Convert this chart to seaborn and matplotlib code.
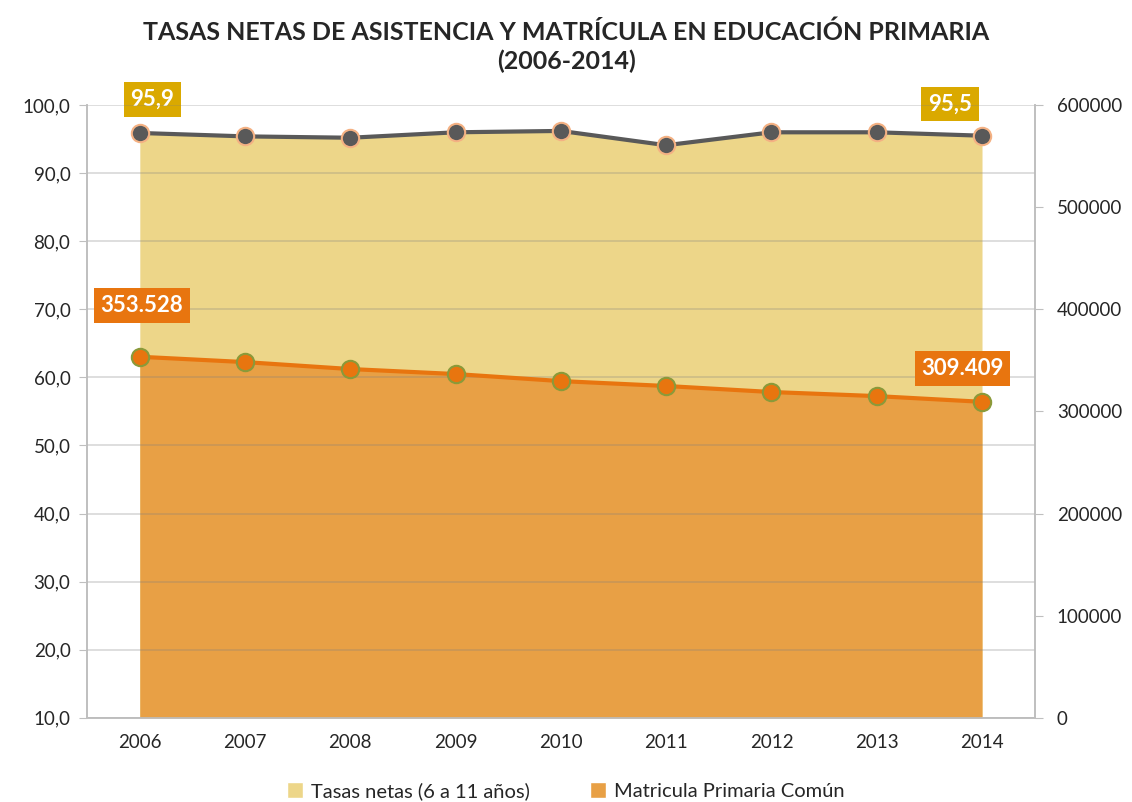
import seaborn as sns
import matplotlib.pyplot as plt
import pandas as pd
import numpy as np
from matplotlib.lines import Line2D
from matplotlib.patches import Patch
from matplotlib.ticker import FuncFormatter, MultipleLocator

# -------------------------------
# Data
# -------------------------------
years = [2006, 2007, 2008, 2009, 2010, 2011, 2012, 2013, 2014]
tasas_netas = [95.9, 95.4, 95.2, 96.0, 96.2, 94.1, 96.0, 96.0, 95.5]
matricula = [353528, 348300, 341500, 336600, 329700, 324900, 319000, 315000, 309409]

df = pd.DataFrame({"Año": years, "Tasas": tasas_netas, "Matricula": matricula})

# -------------------------------
# Style
# -------------------------------
sns.set_style("white")
plt.rcParams["font.family"] = ["Lato", "DejaVu Sans"]

YELLOW_FILL = "#EDD689"
ORANGE_FILL = "#E8A045"
ORANGE = "#E8750F"
GOLD = "#DAA900"
GRAY_LINE = "#595959"
AXIS_GRAY = "#BFBFBF"

fig = plt.figure(figsize=(11.32, 8.02), dpi=100)
ax = fig.add_axes([0.077, 0.105, 0.837, 0.764])
ax2 = ax.twinx()

# yellow area + line (left axis)
ax.fill_between(df["Año"], df["Tasas"], 10, color=YELLOW_FILL, lw=0, zorder=1)
sns.lineplot(data=df, x="Año", y="Tasas", ax=ax, color=GRAY_LINE, lw=3,
             marker="o", markersize=12.5, markerfacecolor=GRAY_LINE,
             markeredgecolor="#F4B183", markeredgewidth=1.5, zorder=5)

# orange area + line (right axis)
ax2.fill_between(df["Año"], df["Matricula"], 0, color=ORANGE_FILL, lw=0, zorder=1)
sns.lineplot(data=df, x="Año", y="Matricula", ax=ax2, color=ORANGE, lw=3,
             marker="o", markersize=12.5, markerfacecolor=ORANGE,
             markeredgecolor="#8A9A3A", markeredgewidth=1.5, zorder=5)

ax.set_ylim(10, 100)
ax2.set_ylim(0, 600000)
ax.set_xlim(years[0] - 0.5, years[-1] + 0.5)

# gridlines drawn on top of both areas (in left-axis coordinates)
for t in np.arange(10, 101, 10):
    ax2.add_line(Line2D([0, 1], [t, t], transform=ax.get_yaxis_transform(),
                        color="#7F7F7F", alpha=0.3, lw=1.2, zorder=2))

# axes
ax.yaxis.set_major_locator(MultipleLocator(10))
ax.yaxis.set_major_formatter(FuncFormatter(lambda v, p: f"{v:.1f}".replace(".", ",")))
ax2.yaxis.set_major_locator(MultipleLocator(100000))
ax2.yaxis.set_major_formatter(FuncFormatter(lambda v, p: f"{int(v)}"))

ax.set_xticks(years)
ax.set_xticks([y - 0.5 for y in years] + [years[-1] + 0.5], minor=True)
ax.tick_params(axis="x", which="major", length=0, pad=12, labelsize=13.5, colors="#262626")
ax.tick_params(axis="x", which="minor", length=6, color=AXIS_GRAY, direction="out")
ax.tick_params(axis="y", length=6, color=AXIS_GRAY, direction="out", labelsize=13.5,
               labelcolor="#262626", pad=6, left=True)
ax2.tick_params(axis="y", length=6, color=AXIS_GRAY, direction="out", labelsize=13.5,
                labelcolor="#262626", pad=10, right=True)

for a in (ax, ax2):
    a.set_xlabel("")
    a.set_ylabel("")
    a.spines["top"].set_visible(False)
    for s in ("left", "right", "bottom"):
        a.spines[s].set_color(AXIS_GRAY)
        a.spines[s].set_linewidth(1.2)

# value labels
box = dict(boxstyle="square,pad=0.3", lw=0)
ax.annotate("95,9", (years[0], tasas_netas[0]), xytext=(9, 24), textcoords="offset points",
            ha="center", va="center", color="white", fontsize=16, fontweight="bold",
            bbox=dict(box, fc=GOLD), zorder=10)
ax.annotate("95,5", (years[-1], tasas_netas[-1]), xytext=(-23, 23), textcoords="offset points",
            ha="center", va="center", color="white", fontsize=16, fontweight="bold",
            bbox=dict(box, fc=GOLD), zorder=10)
ax2.annotate("353.528", (years[0], matricula[0]), xytext=(1.5, 37), textcoords="offset points",
             ha="center", va="center", color="white", fontsize=16, fontweight="bold",
             bbox=dict(box, fc=ORANGE), zorder=10)
ax2.annotate("309.409", (years[-1], matricula[-1]), xytext=(-14, 24), textcoords="offset points",
             ha="center", va="center", color="white", fontsize=16, fontweight="bold",
             bbox=dict(box, fc=ORANGE), zorder=10)

fig.suptitle("TASAS NETAS DE ASISTENCIA Y MATRÍCULA EN EDUCACIÓN PRIMARIA\n(2006-2014)",
             fontsize=18, fontweight="bold", y=0.975, linespacing=1.3)

handles = [Patch(facecolor=YELLOW_FILL, label="Tasas netas (6 a 11 años)"),
           Patch(facecolor=ORANGE_FILL, label="Matricula Primaria Común")]
fig.legend(handles=handles, loc="lower center", bbox_to_anchor=(0.5, -0.02), ncol=2,
           frameon=False, fontsize=14.5, handlelength=0.8, handleheight=0.8,
           handletextpad=0.4, columnspacing=3)

plt.savefig("out.png", dpi=100)
plt.close()
